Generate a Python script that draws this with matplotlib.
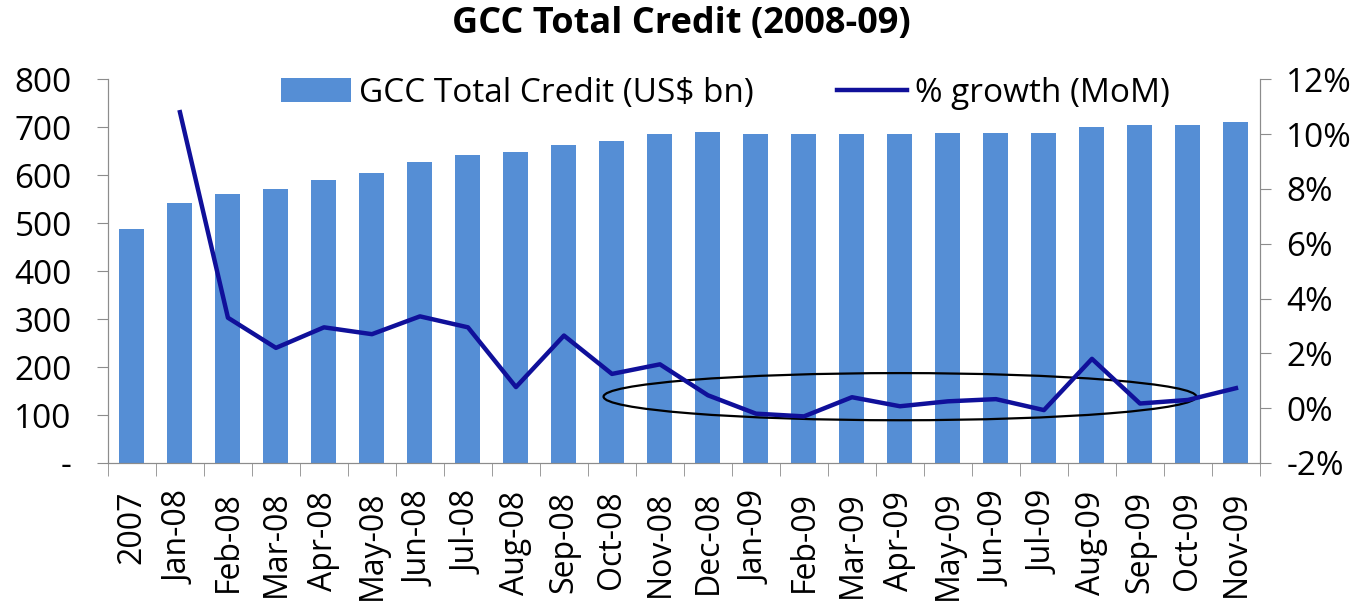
import numpy as np
import matplotlib.pyplot as plt
from matplotlib.patches import Ellipse
from matplotlib.ticker import FuncFormatter

plt.rcParams['font.family'] = ['Open Sans', 'DejaVu Sans']

months = ['2007', 'Jan-08', 'Feb-08', 'Mar-08', 'Apr-08', 'May-08', 'Jun-08',
          'Jul-08', 'Aug-08', 'Sep-08', 'Oct-08', 'Nov-08', 'Dec-08', 'Jan-09',
          'Feb-09', 'Mar-09', 'Apr-09', 'May-09', 'Jun-09', 'Jul-09', 'Aug-09',
          'Sep-09', 'Oct-09', 'Nov-09']
credit = [488, 543, 560, 572, 590, 605, 627, 643, 648, 664, 672, 685,
          690, 685, 685, 685, 685, 688, 688, 688, 700, 705, 705, 710]
# MoM growth in %, no value for the 2007 base year
growth = [np.nan, 10.8, 3.3, 2.2, 2.95, 2.7, 3.35, 2.95, 0.77, 2.65, 1.25, 1.6,
          0.47, -0.2, -0.3, 0.4, 0.07, 0.25, 0.33, -0.07, 1.8, 0.17, 0.3, 0.73]

bar_col = '#558ED5'
line_col = '#10109A'
grey = '#8C8C8C'

x = np.arange(len(months))

fig = plt.figure(figsize=(13.63, 6.10), dpi=100)
ax = fig.add_axes([0.0792, 0.241, 0.8452, 0.629])
ax2 = ax.twinx()

b = ax.bar(x, credit, width=0.52, color=bar_col, label='GCC Total Credit (US$ bn)')
l, = ax2.plot(x, growth, color=line_col, lw=3.2, label='% growth (MoM)')

# circle the flat stretch
ax2.add_patch(Ellipse((16.0, 0.42), 12.35, 1.72, fill=False, ec='black', lw=1.6))

ax.set_xlim(-0.5, len(months) - 0.5)
ax.set_ylim(0, 800)
ax2.set_ylim(-2, 12)
ax.set_yticks(range(0, 801, 100))
ax.yaxis.set_major_formatter(FuncFormatter(lambda v, p: '-' if v == 0 else '%d' % v))
ax2.set_yticks(range(-2, 13, 2))
ax2.yaxis.set_major_formatter(FuncFormatter(lambda v, p: '%d%%' % v))

ax.set_xticks(x)
ax.set_xticklabels(months, rotation=90)
ax.set_xticks(np.arange(-0.5, len(months), 1), minor=True)
ax.tick_params(axis='x', which='major', length=0, pad=20)
ax.tick_params(axis='x', which='minor', length=9, color=grey)
ax.tick_params(axis='y', length=8, color=grey, pad=18)
ax2.tick_params(axis='y', length=8, color=grey, pad=11)
for a in (ax, ax2):
    a.tick_params(labelsize=24)
    a.spines['top'].set_visible(False)
    for s in ('left', 'right', 'bottom'):
        a.spines[s].set_color(grey)
ax.tick_params(axis='x', labelsize=23)

ax.legend([b, l], ['GCC Total Credit (US$ bn)', '% growth (MoM)'], ncol=2,
          loc='upper center', bbox_to_anchor=(0.536, 1.085), frameon=False,
          fontsize=24, handlelength=2.1, handletextpad=0.25, columnspacing=2.5)

fig.suptitle('GCC Total Credit (2008-09)', fontsize=26, fontweight='bold', y=0.99)

fig.savefig('out.png', dpi=100)
